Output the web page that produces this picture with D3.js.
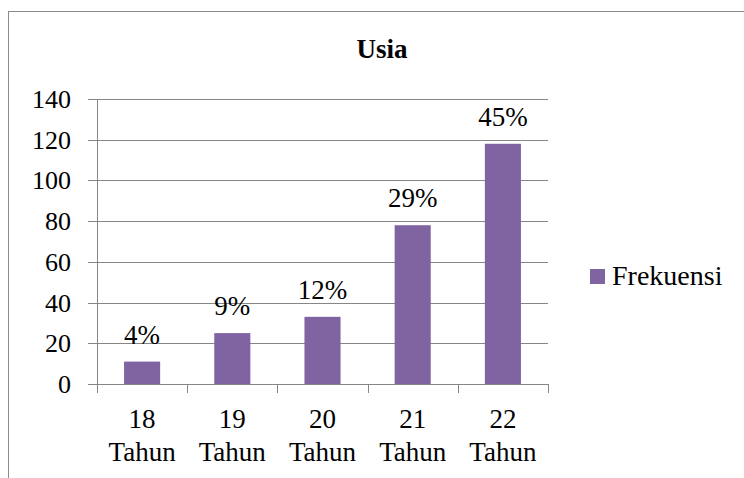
<!DOCTYPE html>
<html><head><meta charset="utf-8">
<script src="https://cdn.jsdelivr.net/npm/d3@7"></script>
<style>body{margin:0;background:#fff}</style>
</head><body><svg id="c" width="744" height="478" font-family="Liberation Serif" style="font-family:'Liberation Serif'"></svg>
<script>
const categories = ["18 Tahun","19 Tahun","20 Tahun","21 Tahun","22 Tahun"];
const values = [11,25,33,78,118];
const percentLabels = ["4%","9%","12%","29%","45%"];
const yTicks = [0,20,40,60,80,100,120,140];
const seriesName = "Frekuensi";
const title = "Usia";

const svg = d3.select("#c");
const FONT = "Liberation Serif";
const grid = "#868686", barColor = "#8064a2";
const L=97, R=548, T=99, B=384;

svg.append("rect").attr("x",8.5).attr("y",11.5).attr("width",800).attr("height",500)
  .attr("fill","none").attr("stroke","#8c8c8c").attr("stroke-width",1);

const x = d3.scaleBand().domain(categories).range([L,R]).paddingInner(0.6).paddingOuter(0.3);
const y = d3.scaleLinear().domain([0,140]).range([B,T]);

svg.selectAll("line.grid").data(yTicks).join("line").attr("class","grid")
  .attr("x1",L-9).attr("x2",R).attr("y1",d=>Math.round(y(d))+0.5).attr("y2",d=>Math.round(y(d))+0.5)
  .attr("stroke",grid).attr("stroke-width",1);
svg.append("line").attr("x1",L+0.5).attr("x2",L+0.5).attr("y1",T).attr("y2",B+9).attr("stroke",grid);
const bounds = d3.range(categories.length+1).map(i=>L + i*(R-L)/categories.length);
svg.selectAll("line.xt").data(bounds).join("line").attr("class","xt")
  .attr("x1",d=>Math.round(d)+0.5).attr("x2",d=>Math.round(d)+0.5).attr("y1",B).attr("y2",B+9)
  .attr("stroke",grid);

svg.selectAll("text.yl").data(yTicks).join("text").attr("class","yl")
  .attr("x",71).attr("y",d=>y(d)+9).attr("text-anchor","end")
  .attr("font-size",26).style("font-family",FONT).text(d=>d);

svg.selectAll("rect.bar").data(values).join("rect").attr("class","bar")
  .attr("x",(d,i)=>x(categories[i])).attr("width",x.bandwidth())
  .attr("y",d=>y(d)).attr("height",d=>B-y(d)).attr("fill",barColor);

svg.selectAll("text.pl").data(values).join("text").attr("class","pl")
  .attr("x",(d,i)=>x(categories[i])+x.bandwidth()/2).attr("y",d=>y(d)-18)
  .attr("text-anchor","middle").attr("font-size",27).style("font-family",FONT)
  .text((d,i)=>percentLabels[i]);

categories.forEach(d=>{
  const parts = d.split(" ");
  const cx = x(d)+x.bandwidth()/2;
  parts.forEach((p,j)=>{
    svg.append("text").attr("x",cx).attr("y",428+j*33).attr("text-anchor","middle")
      .attr("font-size",27).style("font-family",FONT).text(p);
  });
});

svg.append("text").attr("x",382).attr("y",58).attr("text-anchor","middle")
  .attr("font-size",27).attr("font-weight","bold").style("font-family",FONT).text(title);

svg.append("rect").attr("x",590).attr("y",269).attr("width",15).attr("height",15).attr("fill",barColor);
svg.append("text").attr("x",612).attr("y",285).attr("font-size",28).style("font-family",FONT).text(seriesName);
</script></body></html>
